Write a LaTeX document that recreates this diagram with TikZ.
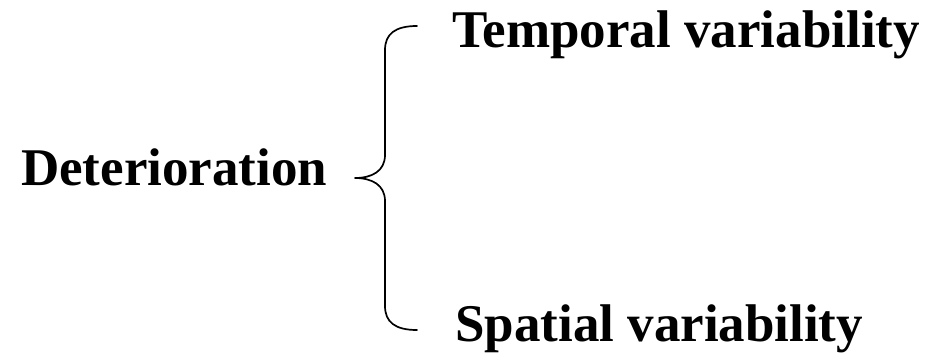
\documentclass[tikz,border=0pt]{standalone}
\usepackage{fontspec}
\setmainfont{Liberation Serif}
\begin{document}
\begin{tikzpicture}[x=1pt,y=-1pt,
  label text/.style={inner sep=0pt,anchor=base west,font=\fontsize{53}{60}\selectfont\bfseries},
  brace line/.style={line width=1.7pt,line cap=round,line join=round}]
\useasboundingbox (0,0) rectangle (929,360);
\node[label text] (root) at (21,185) {Deterioration};
\node[label text] (temporal) at (452,47) {Temporal variability};
\node[label text] (spatial) at (455,341) {Spatial variability};
% curly brace joining the root to both branches
\coordinate (tip) at (355,178);
\coordinate (top) at (417,26);
\coordinate (bot) at (417,330);
\draw[brace line] (top) .. controls (395,26) and (385,34) .. (385,50)
  -- (385,155) .. controls (385,171) and (372,178) .. (tip)
  .. controls (372,178) and (385,185) .. (385,201)
  -- (385,306) .. controls (385,322) and (395,330) .. (bot);
\end{tikzpicture}
\end{document}
